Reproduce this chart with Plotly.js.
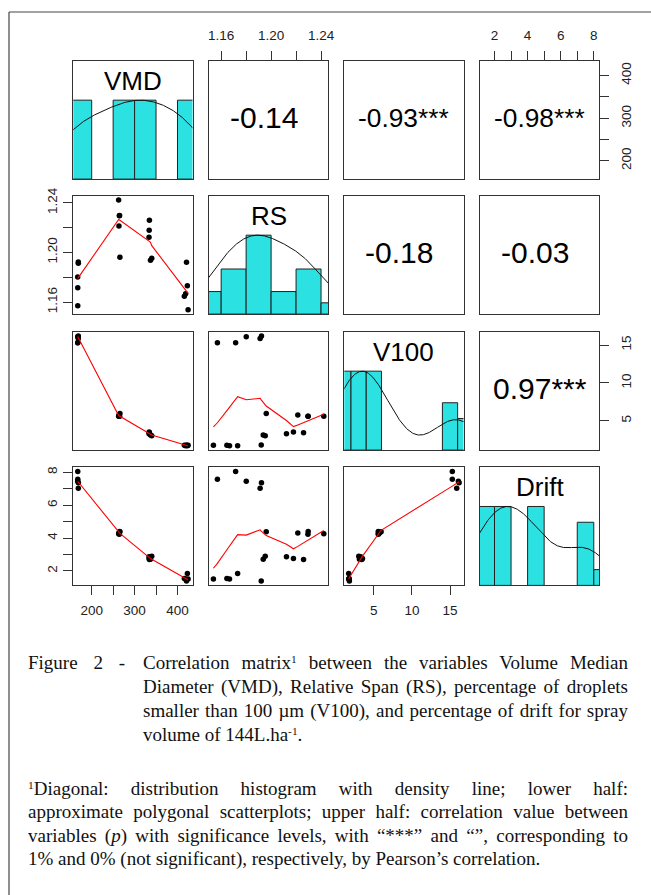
<!DOCTYPE html>
<html>
<head>
<meta charset="utf-8">
<script src="https://cdn.plot.ly/plotly-3.0.1.min.js"></script>
<style>
  body { margin: 0; padding: 0; background: #fff; }
  #wrap { position: relative; width: 651px; height: 895px; overflow: hidden; background: #fff; }
  #plot { position: absolute; left: 0; top: 0; width: 651px; height: 895px; }
  #cap { position: absolute; left: 0; top: 0; width: 651px; height: 895px; pointer-events: none;
         font-family: 'Liberation Serif', 'Times New Roman', serif; font-size: 19px; color: #111; }
  .ln { position: absolute; white-space: nowrap; line-height: 1; }
  .sup { position: relative; top: -0.45em; font-size: 0.6em; line-height: 0; }
</style>
</head>
<body>
<div id="wrap"><div id="plot"></div><div id="cap"></div></div>
<script>
// ---------------- DATA ----------------
const varNames = ['VMD', 'RS', 'V100', 'Drift'];
const VMD   = [167.5, 167.5, 167.4, 168.8, 168.8, 265.8, 263.5, 265.0, 264.5, 262.8,
               337.0, 340.0, 333.6, 334.0, 334.5, 424.7, 416.0, 419.0, 423.0, 421.0];
const RS    = [1.1570, 1.1716, 1.1801, 1.1912, 1.1923, 1.1961, 1.2214, 1.2297, 1.2295, 1.2422,
               1.1937, 1.1953, 1.2123, 1.2179, 1.2260, 1.1538, 1.1646, 1.1667, 1.1732, 1.1921];
const V100  = [15.30, 15.30, 16.10, 15.88, 16.19, 5.95, 5.75, 5.58, 5.60, 5.58,
               3.11, 3.02, 3.28, 3.51, 3.42, 1.75, 1.75, 1.70, 1.70, 1.79];
const Drift = [7.58, 8.06, 7.46, 7.03, 7.37, 4.39, 4.31, 4.41, 4.23, 4.27,
               2.72, 2.90, 2.86, 2.76, 2.70, 1.52, 1.54, 1.52, 1.84, 1.39];

// correlation labels of the upper panels: [row, col] and text
const corCells  = [[0, 1], [0, 2], [0, 3], [1, 2], [1, 3], [2, 3]];
const corLabels = ['-0.14', '-0.93***', '-0.98***', '-0.18', '-0.03', '0.97***'];

// tick values / labels
const vmdTicks   = [200, 250, 300, 350, 400];
const vmdLabels  = ['200', '', '300', '', '400'];
const rsTicks    = [1.16, 1.18, 1.20, 1.22, 1.24];
const rsLabels   = ['1.16', '', '1.20', '', '1.24'];
const v100Ticks  = [5, 10, 15];
const v100Labels = ['5', '10', '15'];
const driftTicks = [2, 3, 4, 5, 6, 7, 8];
const driftLabels= ['2', '', '4', '', '6', '', '8'];

// histogram breaks
const vmdBreaks   = [150, 200, 250, 300, 350, 400, 450];
const rsBreaks    = [1.14, 1.16, 1.18, 1.20, 1.22, 1.24, 1.26];
const v100Breaks  = [0, 2, 4, 6, 8, 10, 12, 14, 16, 18];
const driftBreaks = [1, 2, 3, 4, 5, 6, 7, 8, 9];

// ---------------- helpers ----------------
const dataCols = [VMD, RS, V100, Drift];
const tickSets = [[vmdTicks, vmdLabels], [rsTicks, rsLabels], [v100Ticks, v100Labels], [driftTicks, driftLabels]];
const breakSets = [vmdBreaks, rsBreaks, v100Breaks, driftBreaks];

function padRange(a) {
  const mn = Math.min(...a), mx = Math.max(...a), d = mx - mn;
  return [mn - 0.04 * d, mx + 0.04 * d];
}
function histCounts(a, br) {
  const c = new Array(br.length - 1).fill(0);
  a.forEach(v => {
    for (let i = 0; i < br.length - 1; i++) {
      if ((i === 0 ? v >= br[0] : v > br[i]) && v <= br[i + 1]) { c[i]++; break; }
    }
  });
  return c;
}
function quant7(a, p) {
  const s = [...a].sort((x, y) => x - y);
  const h = (s.length - 1) * p, lo = Math.floor(h);
  const hi = Math.min(lo + 1, s.length - 1);
  return s[lo] + (h - lo) * (s[hi] - s[lo]);
}
function kde(a, adjust) {
  const n = a.length;
  const mean = a.reduce((s, v) => s + v, 0) / n;
  const sd = Math.sqrt(a.reduce((s, v) => s + (v - mean) * (v - mean), 0) / (n - 1));
  const h = (quant7(a, 0.75) - quant7(a, 0.25)) / 1.34;
  const bw = 1.06 * Math.min(sd, h) * Math.pow(n, -0.2) * adjust;
  const from = Math.min(...a) - 3 * bw, to = Math.max(...a) + 3 * bw;
  const xs = [], ys = [];
  for (let i = 0; i < 512; i++) {
    const x = from + (to - from) * i / 511;
    let s = 0;
    a.forEach(v => { const z = (x - v) / bw; s += Math.exp(-0.5 * z * z); });
    xs.push(x); ys.push(s);
  }
  const m = Math.max(...ys);
  return { x: xs, y: ys.map(v => v / m) };
}
// R's lowess (clowess)
function lowess(xIn, yIn, f, nsteps) {
  const n = xIn.length;
  const ord = xIn.map((v, i) => i).sort((a, b) => (xIn[a] - xIn[b]) || (a - b));
  const x = [0], y = [0];
  ord.forEach(i => { x.push(xIn[i]); y.push(yIn[i]); });
  const ys = new Array(n + 1).fill(0), rw = new Array(n + 1).fill(1), res = new Array(n + 1).fill(0);
  const w = new Array(n + 1).fill(0);
  const delta = 0.01 * (x[n] - x[1]);
  const ns = Math.max(2, Math.min(n, Math.floor(f * n + 1e-7)));
  function lowest(xs, nleft, nright, userw) {
    const range = x[n] - x[1];
    const h = Math.max(xs - x[nleft], x[nright] - xs);
    const h9 = 0.999 * h, h1 = 0.001 * h;
    let a = 0, j = nleft;
    while (j <= n) {
      w[j] = 0;
      const r = Math.abs(x[j] - xs);
      if (r <= h9) {
        if (r <= h1) w[j] = 1;
        else { const q = r / h; const t = 1 - q * q * q; w[j] = t * t * t; }
        if (userw) w[j] *= rw[j];
        a += w[j];
      } else if (x[j] > xs) break;
      j++;
    }
    const nrt = j - 1;
    if (a <= 0) return null;
    for (j = nleft; j <= nrt; j++) w[j] /= a;
    if (h > 0) {
      a = 0;
      for (j = nleft; j <= nrt; j++) a += w[j] * x[j];
      let b = xs - a, c = 0;
      for (j = nleft; j <= nrt; j++) c += w[j] * (x[j] - a) * (x[j] - a);
      if (Math.sqrt(c) > 0.001 * range) {
        b /= c;
        for (j = nleft; j <= nrt; j++) w[j] *= (b * (x[j] - a) + 1);
      }
    }
    let s = 0;
    for (j = nleft; j <= nrt; j++) s += w[j] * y[j];
    return s;
  }
  let iter = 1;
  while (iter <= nsteps + 1) {
    let nleft = 1, nright = ns, last = 0, i = 1;
    for (;;) {
      if (nright < n) {
        const d1 = x[i] - x[nleft], d2 = x[nright + 1] - x[i];
        if (d1 > d2) { nleft++; nright++; continue; }
      }
      const v = lowest(x[i], nleft, nright, iter > 1);
      ys[i] = (v === null) ? y[i] : v;
      if (last < i - 1) {
        const denom = x[i] - x[last];
        for (let j = last + 1; j < i; j++) {
          const al = (x[j] - x[last]) / denom;
          ys[j] = al * ys[i] + (1 - al) * ys[last];
        }
      }
      last = i;
      const cut = x[last] + delta;
      for (i = last + 1; i <= n; i++) {
        if (x[i] > cut) break;
        if (x[i] === x[last]) { ys[i] = ys[last]; last = i; }
      }
      i = Math.max(last + 1, i - 1);
      if (last >= n) break;
    }
    for (let k = 1; k <= n; k++) res[k] = y[k] - ys[k];
    let sc = 0;
    for (let k = 1; k <= n; k++) sc += Math.abs(res[k]);
    sc /= n;
    if (iter > nsteps) break;
    const ar = [];
    for (let k = 1; k <= n; k++) ar.push(Math.abs(res[k]));
    ar.sort((a, b) => a - b);
    const m1 = Math.floor(n / 2);
    let cmad;
    if (n % 2 === 0) { const m2 = n - m1 - 1; cmad = 3 * (ar[m1] + ar[m2]); }
    else cmad = 6 * ar[m1];
    if (cmad < 1e-7 * sc) break;
    const c9 = 0.999 * cmad, c1 = 0.001 * cmad;
    for (let k = 1; k <= n; k++) {
      const r = Math.abs(res[k]);
      if (r <= c1) rw[k] = 1;
      else if (r <= c9) { const q = r / cmad; const t = 1 - q * q; rw[k] = t * t; }
      else rw[k] = 0;
    }
    iter++;
  }
  return { x: x.slice(1), y: ys.slice(1) };
}

// ---------------- layout geometry ----------------
const W = 651, H = 895;
const colLeft = [73.3, 209, 344.3, 480], panelW = 119.2;
const rowTop = [60.7, 195.7, 331.7, 467], panelH = 118.4;
const FONT = 'Liberation Sans, Arial, Helvetica, sans-serif';
const LINEC = '#333';
const HISTC = '#2be1e1';

const ranges = dataCols.map(padRange);
const traces = [];
const annotations = [];
const layout = {
  width: W, height: H,
  margin: { l: 0, r: 0, t: 0, b: 0, pad: 0 },
  paper_bgcolor: '#fff', plot_bgcolor: '#fff',
  showlegend: false,
  font: { family: FONT, color: '#111' },
  annotations: annotations,
  shapes: [
    { type: 'line', xref: 'paper', yref: 'paper', x0: 9 / W, x1: 1, y0: 1 - 12 / H, y1: 1 - 12 / H,
      line: { color: '#444', width: 1.2 } },
    { type: 'line', xref: 'paper', yref: 'paper', x0: 9 / W, x1: 9 / W, y0: 1 - 12 / H, y1: 0,
      line: { color: '#444', width: 1.2 } }
  ]
};

function baseAxis() {
  return {
    showline: true, mirror: true, linecolor: LINEC, linewidth: 1,
    showgrid: false, zeroline: false, fixedrange: true,
    ticks: '', showticklabels: false, autorange: false
  };
}
const standoff = { bottom: 3, top: 5, left: 1, right: 6 };
function tickAxis(ax, v, side, isY) {
  ax.ticks = 'outside';
  ax.ticklen = 9;
  ax.tickwidth = 1;
  ax.tickcolor = LINEC;
  ax.tickmode = 'array';
  ax.tickvals = tickSets[v][0];
  ax.ticktext = tickSets[v][1];
  ax.showticklabels = true;
  ax.side = side;
  ax.tickfont = { family: FONT, size: 13.5, color: '#222' };
  ax.ticklabelstandoff = standoff[side];
  if (isY) ax.tickangle = -90;
}

for (let r = 0; r < 4; r++) {
  for (let c = 0; c < 4; c++) {
    const k = r * 4 + c + 1;
    const xa = baseAxis(), ya = baseAxis();
    xa.domain = [colLeft[c] / W, (colLeft[c] + panelW) / W];
    ya.domain = [1 - (rowTop[r] + panelH) / H, 1 - rowTop[r] / H];
    xa.range = ranges[c];
    ya.range = (r === c) ? [0, 1.5] : ranges[r];
    xa.anchor = 'y' + (k === 1 ? '' : k);
    ya.anchor = 'x' + (k === 1 ? '' : k);
    if (r === 3 && (c === 0 || c === 2)) tickAxis(xa, c, 'bottom', false);
    if (r === 0 && (c === 1 || c === 3)) tickAxis(xa, c, 'top', false);
    if (c === 0 && (r === 1 || r === 3)) tickAxis(ya, r, 'left', true);
    if (c === 3 && (r === 0 || r === 2)) tickAxis(ya, r, 'right', true);
    layout['xaxis' + (k === 1 ? '' : k)] = xa;
    layout['yaxis' + (k === 1 ? '' : k)] = ya;

    const xr = 'x' + (k === 1 ? '' : k), yr = 'y' + (k === 1 ? '' : k);
    if (r === c) {
      const br = breakSets[c];
      const cnt = histCounts(dataCols[c], br);
      const mx = Math.max(...cnt);
      const bx = [], by = [];
      cnt.forEach((v, i) => { if (v > 0) { bx.push((br[i] + br[i + 1]) / 2); by.push(v / mx); } });
      traces.push({
        type: 'bar', x: bx, y: by, width: br[1] - br[0], xaxis: xr, yaxis: yr,
        marker: { color: HISTC, line: { color: '#222', width: 1 } }, hoverinfo: 'skip'
      });
      const d = kde(dataCols[c], 1.2);
      traces.push({
        type: 'scatter', mode: 'lines', x: d.x, y: d.y, xaxis: xr, yaxis: yr,
        line: { color: '#111', width: 1 }, hoverinfo: 'skip'
      });
      annotations.push({
        xref: xr + ' domain', yref: yr + ' domain', x: 0.5, y: 1 - 20 / panelH,
        text: varNames[c], showarrow: false, xanchor: 'center', yanchor: 'middle',
        font: { family: FONT, size: 26, color: '#000' }
      });
    } else if (r > c) {
      traces.push({
        type: 'scatter', mode: 'markers', x: dataCols[c], y: dataCols[r], xaxis: xr, yaxis: yr,
        marker: { color: '#000', size: 5.5 }, hoverinfo: 'skip', cliponaxis: true
      });
      const lw = lowess(dataCols[c], dataCols[r], 2 / 3, 3);
      traces.push({
        type: 'scatter', mode: 'lines', x: lw.x, y: lw.y, xaxis: xr, yaxis: yr,
        line: { color: '#ff0000', width: 1.1 }, hoverinfo: 'skip'
      });
    } else {
      // empty trace so that the upper (correlation) panel frame is created
      traces.push({ type: 'scatter', mode: 'markers', x: [], y: [], xaxis: xr, yaxis: yr, hoverinfo: 'skip' });
    }
  }
}
// correlation text: like psych, shrink labels wider than "0.12***"; non-significant ones carry a trailing blank
corCells.forEach((rc, i) => {
  const k = rc[0] * 4 + rc[1] + 1;
  const xr = 'x' + (k === 1 ? '' : k), yr = 'y' + (k === 1 ? '' : k);
  const txt = corLabels[i];
  const starred = txt.endsWith('*');
  const size = (starred && txt.startsWith('-')) ? 26.3 : 30;
  annotations.push({
    xref: xr + ' domain', yref: yr + ' domain', x: 0.5, y: 0.5 + 2 / panelH,
    text: txt, showarrow: false, xanchor: 'center', yanchor: 'middle',
    xshift: starred ? 0 : -4.5,
    font: { family: FONT, size: size, color: '#000' }
  });
});

Plotly.newPlot('plot', traces, layout, { staticPlot: true, displayModeBar: false });

// ---------------- caption (justified lines) ----------------
const capLines = [
  { html: 'Figure 2 -', x: 28, base: 668.5, w: 97 },
  { html: 'Correlation matrix<span class="sup">1</span> between the variables Volume Median', x: 143, base: 668.5, w: 485 },
  { html: 'Diameter (VMD), Relative Span (RS), percentage of droplets', x: 143, base: 692.5, w: 485 },
  { html: 'smaller than 100 \u00B5m (V100), and percentage of drift for spray', x: 143, base: 716.5, w: 485 },
  { html: 'volume of 144L.ha<span class="sup">-1</span>.', x: 143, base: 740.5, w: 0 },
  { html: '<span class="sup">1</span>Diagonal: distribution histogram with density line; lower half:', x: 28, base: 794.5, w: 600 },
  { html: 'approximate polygonal scatterplots; upper half: correlation value between', x: 28, base: 818, w: 600 },
  { html: 'variables (<i>p</i>) with significance levels, with \u201C***\u201D and \u201C\u201D, corresponding to', x: 28, base: 841.5, w: 600 },
  { html: '1% and 0% (not significant), respectively, by Pearson\u2019s correlation.', x: 28, base: 865, w: 0 }
];
const cap = document.getElementById('cap');
const FS = 19;
capLines.forEach(L => {
  const d = document.createElement('div');
  d.className = 'ln';
  d.style.left = L.x + 'px';
  d.style.top = (L.base - 0.8375 * FS) + 'px';
  const s = document.createElement('span');
  s.innerHTML = L.html;
  d.appendChild(s);
  cap.appendChild(d);
  if (L.w > 0) {
    const wNat = s.getBoundingClientRect().width;
    const gaps = (s.textContent.match(/ /g) || []).length;
    if (gaps > 0) s.style.wordSpacing = ((L.w - wNat) / gaps) + 'px';
  }
});
</script>
</body>
</html>
